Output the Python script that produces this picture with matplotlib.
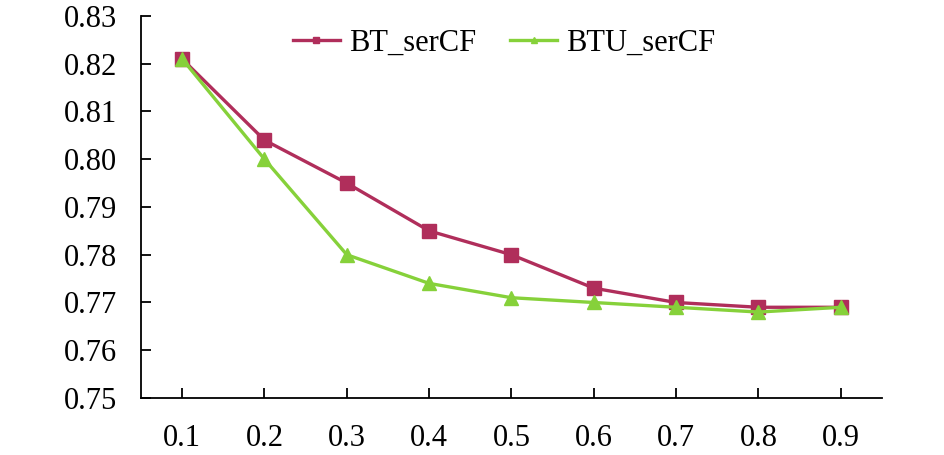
import matplotlib
matplotlib.use("Agg")
import matplotlib.pyplot as plt
from matplotlib.lines import Line2D

categories = ["0.1", "0.2", "0.3", "0.4", "0.5", "0.6", "0.7", "0.8", "0.9"]
bt_sercf = [0.821, 0.804, 0.795, 0.785, 0.780, 0.773, 0.770, 0.769, 0.769]
btu_sercf = [0.821, 0.800, 0.780, 0.774, 0.771, 0.770, 0.769, 0.768, 0.769]
yticks = [0.75, 0.76, 0.77, 0.78, 0.79, 0.80, 0.81, 0.82, 0.83]

c_bt = "#B02E5B"
c_btu = "#86D13A"

plt.rcParams['font.family'] = ['Liberation Serif', 'DejaVu Serif']

fig = plt.figure(figsize=(9.45, 4.55), dpi=100)
ax = fig.add_axes([141/945, 1-398/455, (882-141)/945, (398-16)/455])

x = list(range(1, len(categories)+1))
ax.plot(x, bt_sercf, color=c_bt, lw=2.4, marker='s', ms=9.5, label="BT_serCF", zorder=3)
ax.plot(x, btu_sercf, color=c_btu, lw=2.4, marker='^', ms=10, label="BTU_serCF", zorder=4)

ax.set_xlim(0.5, len(categories)+0.5)
ax.set_ylim(0.75, 0.83)
ax.set_xticks(x)
ax.set_xticklabels(categories)
ax.set_yticks(yticks)
ax.set_yticklabels([f"{v:.2f}" for v in yticks])
ax.tick_params(axis='both', direction='in', length=7, width=1.3, labelsize=22, colors='black')
ax.tick_params(axis='x', pad=18.5)
ax.tick_params(axis='y', pad=17.5)
for s in ['top', 'right']:
    ax.spines[s].set_visible(False)
for s in ['left', 'bottom']:
    ax.spines[s].set_linewidth(1.3)

handles = [Line2D([], [], color=c_bt, lw=2.4, marker='s', ms=5),
           Line2D([], [], color=c_btu, lw=2.4, marker='^', ms=4)]
ax.legend(handles, ["BT_serCF", "BTU_serCF"], loc='center', bbox_to_anchor=(0.49, 0.929),
          ncol=2, frameon=False, fontsize=22, handlelength=1.55, columnspacing=1.1,
          handletextpad=0.3, borderaxespad=0.0, borderpad=0.0)

fig.savefig("out.png", dpi=100)
